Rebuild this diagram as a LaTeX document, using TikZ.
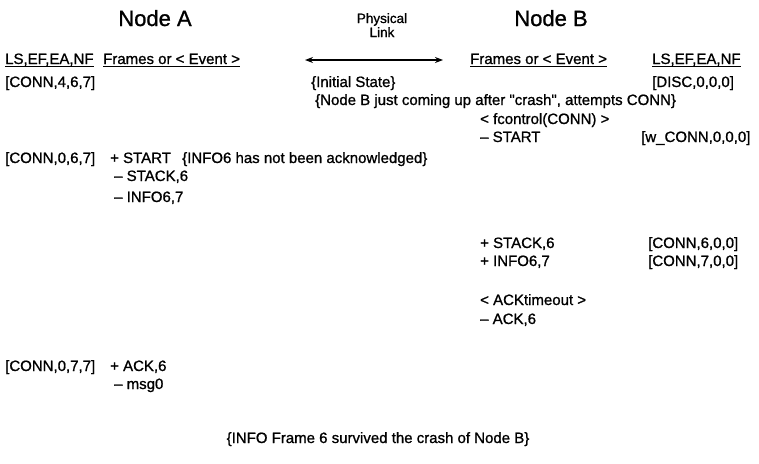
\documentclass[tikz,border=0pt]{standalone}
\usepackage{fontspec}
\setmainfont{Liberation Sans}
\newfontfamily\bodyfam[FakeBold=1.0]{Liberation Sans}
\usetikzlibrary{arrows.meta}
\newcommand{\bodyfont}{\bodyfam\fontsize{15}{17}\selectfont}
\newcommand{\titlefont}{\bodyfam\fontsize{22}{26}\selectfont}
\newcommand{\linkfont}{\bodyfam\fontsize{13.5}{16}\selectfont}
\newcommand{\uline}[1]{\setbox0\hbox{#1}\rlap{\rule[-3pt]{\wd0}{1.1pt}}\box0}
\tikzset{
  txt/.style={anchor=base west, inner sep=0pt, font=\bodyfont},
  title/.style={anchor=base, inner sep=0pt, font=\titlefont},
  linklbl/.style={anchor=base, inner sep=0pt, font=\linkfont},
  linkarrow/.style={line width=1.3pt, {Stealth[length=8pt,width=6pt]}-{Stealth[length=8pt,width=6pt]}}
}
\begin{document}
\begin{tikzpicture}[x=1pt,y=-1pt]
\useasboundingbox (0,0) rectangle (759,463);
% titles
\node[title] (nodeA) at (155,26) {Node A};
\node[title] (nodeB) at (551,26) {Node B};
\node[linklbl] (phys) at (382,23) {Physical};
\node[linklbl] (link) at (382,37) {Link};
% header
\node[txt] (lsA) at (5,64) {\uline{LS,EF,EA,NF}};
\node[txt] (frA) at (103,64) {\uline{Frames or < Event >}};
\node[txt] (frB) at (470,64) {\uline{Frames or < Event >}};
\node[txt] (lsB) at (652,64) {\uline{LS,EF,EA,NF}};
\coordinate (arrL) at (305,60);
\coordinate (arrR) at (443,60);
\draw[linkarrow] (arrL) -- (arrR);
% rows
\node[txt] (a1) at (5,87) {[CONN,4,6,7]};
\node[txt] (init) at (311,87) {\{Initial State\}};
\node[txt] (b1) at (652,87) {[DISC,0,0,0]};
\node[txt] (crash) at (315,105) {\{Node B just coming up after "crash", attempts CONN\}};
\node[txt] (fctl) at (480,124) {< fcontrol(CONN) >};
\node[txt] (bstart) at (480,142) {– START};
\node[txt] (b2) at (641,142) {[w\_CONN,0,0,0]};
\node[txt] (a2) at (5,163) {[CONN,0,6,7]};
\node[txt] (astart) at (110,163) {+ START};
\node[txt] (note6) at (182,163) {\{INFO6 has not been acknowledged\}};
\node[txt] (astack) at (114,181) {– STACK,6};
\node[txt] (ainfo) at (114,202) {– INFO6,7};
\node[txt] (bstack) at (480,248) {+ STACK,6};
\node[txt] (b3) at (648,248) {[CONN,6,0,0]};
\node[txt] (binfo) at (480,266) {+ INFO6,7};
\node[txt] (b4) at (648,266) {[CONN,7,0,0]};
\node[txt] (acktmo) at (480,305) {< ACKtimeout >};
\node[txt] (back) at (480,324) {– ACK,6};
\node[txt] (a3) at (5,371) {[CONN,0,7,7]};
\node[txt] (aack) at (110,371) {+ ACK,6};
\node[txt] (amsg) at (114,389) {– msg0};
\node[txt, anchor=base] (final) at (378,443) {\{INFO Frame 6 survived the crash of Node B\}};
\end{tikzpicture}
\end{document}
